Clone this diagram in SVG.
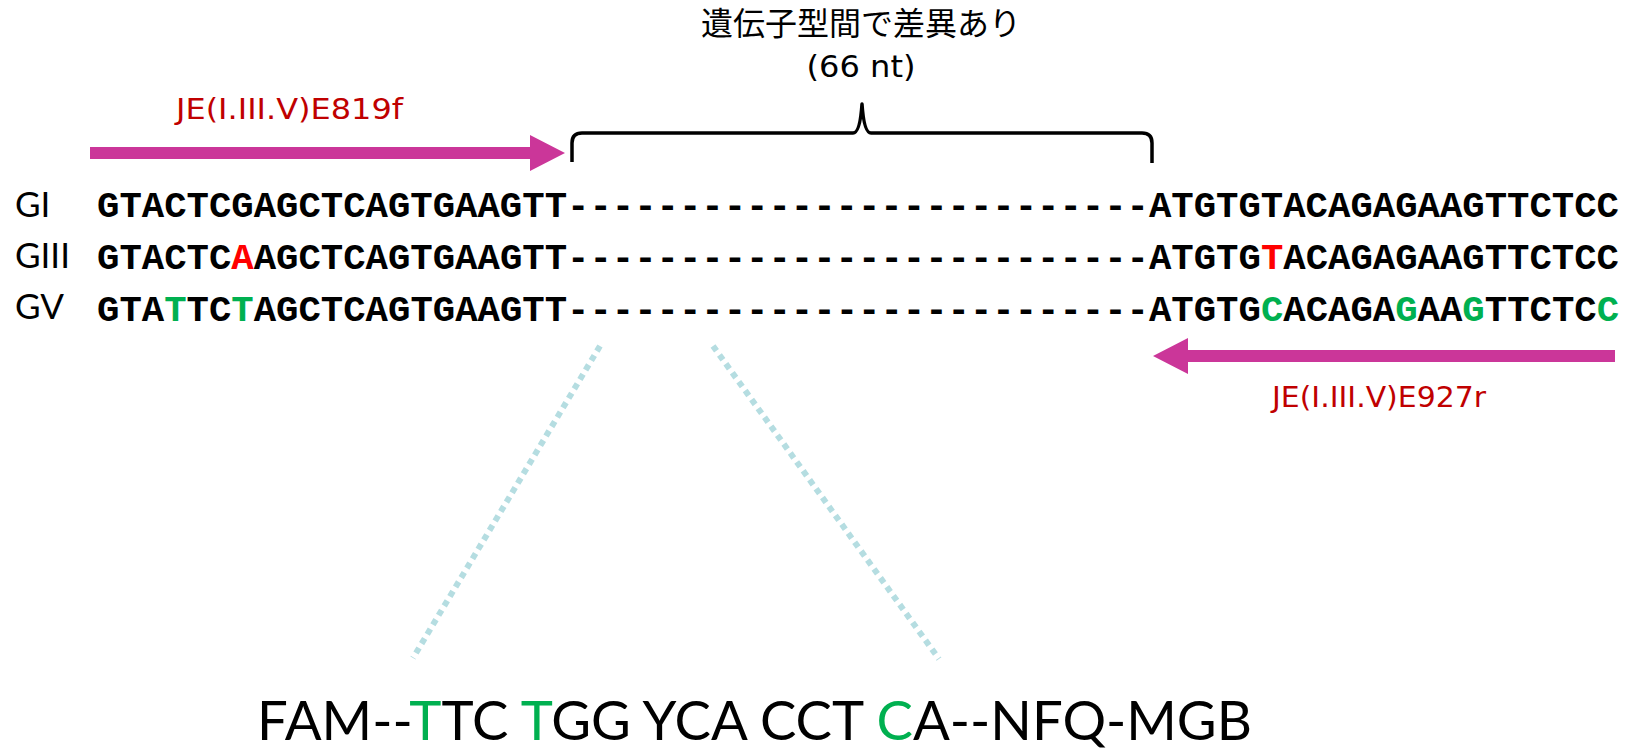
<svg xmlns="http://www.w3.org/2000/svg" width="1632" height="749" viewBox="0 0 1632 749">
<defs>
<style>
.seq{font-family:"Liberation Mono","Courier New",monospace;font-weight:bold;font-size:37.3px;fill:#000}
.r{fill:#FF0000}
.g{fill:#00B050}
.lab{font-family:"Lato","DejaVu Sans",sans-serif;font-size:35px;fill:#000}
.prim{font-family:"DejaVu Sans",sans-serif;font-size:29px;fill:#C00000}
.ttl{font-family:"Noto Sans CJK JP",sans-serif;font-size:32px;fill:#000}
.sub{font-family:"DejaVu Sans",sans-serif;font-size:31px;fill:#000}
.probe{font-family:"Lato","DejaVu Sans",sans-serif;font-size:54.5px;fill:#000}
.arr{fill:#CB3699}
.dot{stroke:#B5DDE1;stroke-width:6;stroke-dasharray:6 5;fill:none}
.brace{stroke:#000;stroke-width:3.5;fill:none;stroke-linejoin:round}
</style>
</defs>
<g id="title">
<text class="ttl" x="861" y="35" text-anchor="middle">遺伝子型間で差異あり</text>
<text class="sub" x="861" y="77" text-anchor="middle" textLength="109" lengthAdjust="spacingAndGlyphs">(66 nt)</text>
</g>
<g id="brace">
<path class="brace" d="M572,162 L572,143 Q572,133 582,133 L853,133 Q860,133 862,104 Q864,133 871,133 L1142,133 Q1152,133 1152,143 L1152,163"/>
</g>
<g id="forward-primer">
<text class="prim" x="176" y="119" textLength="227" lengthAdjust="spacingAndGlyphs">JE(I.III.V)E819f</text>
<path class="arr" d="M90,147 L530,147 L530,135 L565,153 L530,171 L530,159 L90,159 Z"/>
</g>
<g id="reverse-primer">
<path class="arr" d="M1615,350 L1188,350 L1188,338 L1153,356 L1188,374 L1188,362 L1615,362 Z"/>
<text class="prim" x="1272" y="407" textLength="214" lengthAdjust="spacingAndGlyphs">JE(I.III.V)E927r</text>
</g>
<g id="labels">
<text class="lab" x="15" y="217">GI</text>
<text class="lab" x="15" y="268">GIII</text>
<text class="lab" x="15" y="319">GV</text>
</g>
<g id="row-GI">
<text class="seq" x="97" y="217">GTACTCGAGCTCAGTGAAGTT--------------------------ATGTGTACAGAGAAGTTCTCC</text>
</g>
<g id="row-GIII">
<text class="seq" x="97" y="269">GTACTC<tspan class="r">A</tspan>AGCTCAGTGAAGTT--------------------------ATGTG<tspan class="r">T</tspan>ACAGAGAAGTTCTCC</text>
</g>
<g id="row-GV">
<text class="seq" x="97" y="321">GTA<tspan class="g">T</tspan>TC<tspan class="g">T</tspan>AGCTCAGTGAAGTT--------------------------ATGTG<tspan class="g">C</tspan>ACAGA<tspan class="g">G</tspan>AA<tspan class="g">G</tspan>TTCTC<tspan class="g">C</tspan></text>
</g>
<g id="connectors">
<line class="dot" x1="600" y1="346" x2="413" y2="658"/>
<line class="dot" x1="713" y1="346" x2="939" y2="659"/>
</g>
<g id="probe">
<text class="probe" x="257" y="740">FAM--<tspan class="g">T</tspan>TC <tspan class="g">T</tspan>GG YCA CCT <tspan class="g">C</tspan>A--NFQ-MGB</text>
</g>
</svg>
